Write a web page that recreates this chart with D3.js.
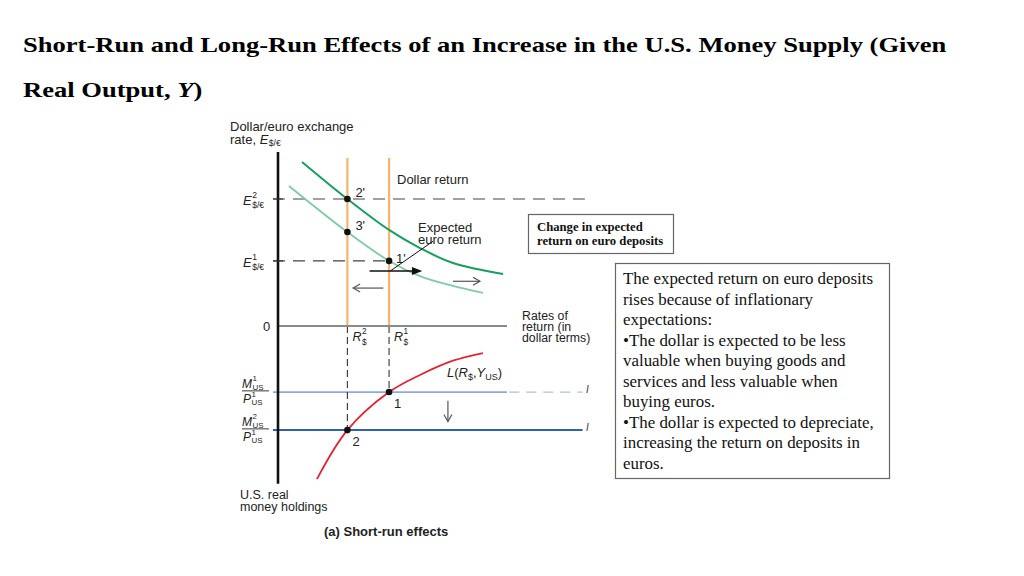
<!DOCTYPE html>
<html><head><meta charset="utf-8">
<script src="https://cdn.jsdelivr.net/npm/d3@7"></script>
<style>
html,body{margin:0;padding:0;background:#fff;}
svg{display:block;}
</style></head>
<body>
<svg id="chart" width="1024" height="576"></svg>
<script>
// ---------- DATA ----------
const titleLines = ["Short-Run and Long-Run Effects of an Increase in the U.S. Money Supply (Given", "Real Output, "];
const rateLevels = [3.03, 4.85];            // R$2, R$1
const exchangeLevels = [7.30, 3.74];        // E2, E1
const point3Level = 5.40;                   // 3'
const moneyLevels = [3.98, 6.27];           // M1/P1, M2/P1
const expectedEuroReturnNew = [[1.05,9.43],[3.03,7.30],[4.85,5.52],[6.20,4.48],[7.64,3.62],[9.83,2.99]];
const expectedEuroReturnOld = [[0.48,8.05],[3.03,5.40],[4.85,3.74],[6.20,2.87],[7.64,2.30],[8.95,1.90]];
const liquidityCurve = [[1.70,9.22],[3.03,6.27],[4.85,3.98],[6.20,2.95],[7.64,2.09],[8.95,1.63]];
const pointLabelsTop = ["2'", "3'", "1'"];
const pointLabelsBottom = ["1", "2"];
const axisXLabel = ["Rates of", "return (in", "dollar terms)"];
const axisYLabelBottom = ["U.S. real", "money holdings"];
const noteShort = ["Change in expected", "return on euro deposits"];
const noteLong = ["The expected return on euro deposits","rises because of inflationary","expectations:",
  "\u2022The dollar is expected to be less","valuable when buying goods and","services and less valuable when",
  "buying euros.","\u2022The dollar is expected to depreciate,","increasing the return on deposits in","euros."];

// ---------- SETUP ----------
const svg = d3.select("#chart");
const SANS = "'Liberation Sans', Arial, sans-serif";
const SERIF = "'Liberation Serif', 'Times New Roman', serif";

// Title
const tg = svg.append("g");
const t1 = tg.append("text").attr("x",0).attr("y",52).attr("font-family",SERIF).attr("font-weight","bold")
  .attr("font-size",21.5).attr("fill","#000").text(titleLines[0]);
const t2 = tg.append("text").attr("x",0).attr("y",97).attr("font-family",SERIF).attr("font-weight","bold")
  .attr("font-size",21.5).attr("fill","#000");
t2.append("tspan").text(titleLines[1].replace(/ $/,"\u00a0"));
t2.append("tspan").attr("font-style","italic").text("Y");
t2.append("tspan").text(")");
const natural = t1.node().getComputedTextLength();
const sx = 924 / natural;
tg.attr("transform", `translate(23,0) scale(${sx},1)`);

// Scales
const x = d3.scaleLinear().domain([0,10]).range([278,507]);
const yTop = d3.scaleLinear().domain([0,10]).range([326,152]);
const yBot = d3.scaleLinear().domain([0,10]).range([326,492]);

svg.append("defs").append("clipPath").attr("id","fig").append("rect")
  .attr("x",200).attr("y",110).attr("width",392).attr("height",440);
const g = svg.append("g").attr("clip-path","url(#fig)");

function sym(parent, px, py, base, sup, sub, size, supDy=-0.55, subDy=0.22){
  const b = parent.append("text").attr("x",px).attr("y",py).attr("font-family",SANS)
    .attr("font-size",size).attr("font-style","italic").attr("fill","#222").text(base);
  const w = b.node().getComputedTextLength();
  if(sup) parent.append("text").attr("x",px+w+0.5).attr("y",py+size*supDy).attr("font-family",SANS)
    .attr("font-size",size*0.66).attr("fill","#222").text(sup);
  if(sub) parent.append("text").attr("x",px+w+0.5).attr("y",py+size*subDy).attr("font-family",SANS)
    .attr("font-size",size*0.66).attr("fill","#222").text(sub);
  return w;
}

// Orange dollar return lines
rateLevels.forEach(r=>{
  g.append("line").attr("x1",x(r)).attr("x2",x(r)).attr("y1",yTop(9.66)).attr("y2",yTop(0))
    .attr("stroke","#f6b46e").attr("stroke-width",2.2);
});

// dashed exchange rate lines
g.append("line").attr("x1",x(-0.22)).attr("x2",x(13.4)).attr("y1",yTop(exchangeLevels[0])).attr("y2",yTop(exchangeLevels[0]))
  .attr("stroke","#444").attr("stroke-width",1.1).attr("stroke-dasharray","12,8");
g.append("line").attr("x1",x(-0.22)).attr("x2",x(rateLevels[1])).attr("y1",yTop(exchangeLevels[1])).attr("y2",yTop(exchangeLevels[1]))
  .attr("stroke","#444").attr("stroke-width",1.1).attr("stroke-dasharray","12,8");

// curves
const lineTop = d3.line().x(d=>x(d[0])).y(d=>yTop(d[1])).curve(d3.curveCatmullRom.alpha(0.5));
const lineBot = d3.line().x(d=>x(d[0])).y(d=>yBot(d[1])).curve(d3.curveCatmullRom.alpha(0.5));
g.append("path").attr("d",lineTop(expectedEuroReturnOld)).attr("fill","none").attr("stroke","#7fcca3").attr("stroke-width",1.8);
g.append("path").attr("d",lineTop(expectedEuroReturnNew)).attr("fill","none").attr("stroke","#17a05c").attr("stroke-width",2);

// money lines
g.append("line").attr("x1",x(-0.22)).attr("x2",x(10)).attr("y1",yBot(moneyLevels[0])).attr("y2",yBot(moneyLevels[0]))
  .attr("stroke","#8fa9dc").attr("stroke-width",1.8);
g.append("line").attr("x1",x(10.1)).attr("x2",x(13.3)).attr("y1",yBot(moneyLevels[0])).attr("y2",yBot(moneyLevels[0]))
  .attr("stroke","#b3bfd6").attr("stroke-width",1.3).attr("stroke-dasharray","10,7");
g.append("line").attr("x1",x(-0.22)).attr("x2",x(13.3)).attr("y1",yBot(moneyLevels[1])).attr("y2",yBot(moneyLevels[1]))
  .attr("stroke","#2e62ad").attr("stroke-width",2);
moneyLevels.forEach(m=>{
  g.append("text").attr("x",x(13.45)).attr("y",yBot(m)+1).attr("font-family",SANS).attr("font-size",10)
    .attr("font-style","italic").attr("fill","#333").text("I");
});

// vertical dashed lines below axis
rateLevels.forEach((r,i)=>{
  const m = i===0 ? moneyLevels[1] : moneyLevels[0];
  g.append("line").attr("x1",x(r)).attr("x2",x(r)).attr("y1",yBot(0)).attr("y2",yBot(m))
    .attr("stroke","#333").attr("stroke-width",1.1).attr("stroke-dasharray","7,4");
});

// liquidity curve
g.append("path").attr("d",lineBot(liquidityCurve)).attr("fill","none").attr("stroke","#e3232f").attr("stroke-width",1.8);

// axes
g.append("line").attr("x1",x(0)).attr("x2",x(10)).attr("y1",yTop(0)).attr("y2",yTop(0)).attr("stroke","#8a8a8a").attr("stroke-width",2);
g.append("line").attr("x1",x(0)).attr("x2",x(0)).attr("y1",yTop(10)).attr("y2",yBot(9.5)).attr("stroke","#111").attr("stroke-width",2.6);
exchangeLevels.forEach(e=>{
  g.append("line").attr("x1",x(-0.22)).attr("x2",x(0.22)).attr("y1",yTop(e)).attr("y2",yTop(e)).attr("stroke","#333").attr("stroke-width",1.1);
});

// points
const topPts = [[rateLevels[0],exchangeLevels[0]],[rateLevels[0],point3Level],[rateLevels[1],exchangeLevels[1]]];
topPts.forEach((p,i)=>{
  g.append("circle").attr("cx",x(p[0])).attr("cy",yTop(p[1])).attr("r",3.3).attr("fill","#111");
  g.append("text").attr("x",x(p[0])+(i===2?7:8)).attr("y",yTop(p[1])+(i===2?2:-2))
    .attr("font-family",SANS).attr("font-size",13).attr("fill","#222").text(pointLabelsTop[i]);
});
const botPts = [[rateLevels[1],moneyLevels[0]],[rateLevels[0],moneyLevels[1]]];
botPts.forEach((p,i)=>{
  g.append("circle").attr("cx",x(p[0])).attr("cy",yBot(p[1])).attr("r",3.3).attr("fill","#111");
  g.append("text").attr("x",x(p[0])+5).attr("y",yBot(p[1])+16)
    .attr("font-family",SANS).attr("font-size",13).attr("fill","#222").text(pointLabelsBottom[i]);
});

// arrows
function openHead(x2,y2,dx,dy,color){
  const L=7, W=4;
  const px=-dy, py=dx;
  g.append("path").attr("d",`M${x2-dx*L+px*W},${y2-dy*L+py*W}L${x2},${y2}L${x2-dx*L-px*W},${y2-dy*L-py*W}`)
    .attr("fill","none").attr("stroke",color).attr("stroke-width",1.2);
}
g.append("line").attr("x1",x(7.64)).attr("x2",x(8.82)).attr("y1",yTop(2.57)).attr("y2",yTop(2.57)).attr("stroke","#555").attr("stroke-width",1.2);
openHead(x(8.82),yTop(2.57),1,0,"#555");
g.append("line").attr("x1",x(4.6)).attr("x2",x(3.28)).attr("y1",yTop(2.18)).attr("y2",yTop(2.18)).attr("stroke","#555").attr("stroke-width",1.2);
openHead(x(3.28),yTop(2.18),-1,0,"#555");
g.append("line").attr("x1",x(7.42)).attr("x2",x(7.42)).attr("y1",yBot(4.5)).attr("y2",yBot(5.75)).attr("stroke","#555").attr("stroke-width",1.2);
openHead(x(7.42),yBot(5.75),0,1,"#555");
g.append("line").attr("x1",x(4.0)).attr("x2",x(6.0)).attr("y1",yTop(3.16)).attr("y2",yTop(3.16)).attr("stroke","#111").attr("stroke-width",1.5);
g.append("path").attr("d",`M${x(6.3)},${yTop(3.16)}L${x(5.85)},${yTop(3.16)-4}L${x(5.85)},${yTop(3.16)+4}Z`).attr("fill","#111");
g.append("line").attr("x1",x(4.9)).attr("x2",x(6.78)).attr("y1",yTop(3.16)).attr("y2",yTop(4.88)).attr("stroke","#111").attr("stroke-width",1);

// labels
const lab = (t,px,py,size=13,extra={})=>{
  const e = g.append("text").attr("x",px).attr("y",py).attr("font-family",SANS).attr("font-size",size).attr("fill","#222").text(t);
  Object.entries(extra).forEach(([k,v])=>e.attr(k,v));
  return e;
};
lab("Dollar/euro exchange",230,131);
const rl = lab("rate,\u00a0",230,143.5);
const rw = rl.node().getComputedTextLength();
sym(g,230+rw,143.5,"E",null,"$/\u20ac",13);
lab("Dollar return",397,184);
lab("Expected",418,232);
lab("euro return",418,244);
lab("0",263,331);
axisXLabel.forEach((s,i)=>lab(s,522,320+i*10.8,12.3));
axisYLabelBottom.forEach((s,i)=>lab(s,240,499+i*11.5,12.5));
lab("(a) Short-run effects",324,536,13,{"font-weight":"bold"});

// E labels
exchangeLevels.forEach((e,i)=>{
  sym(g,243,yTop(e)+6.5,"E",String(2-i),"$/\u20ac",13,-0.58,0.2);
});
// R labels
rateLevels.forEach((r,i)=>{
  sym(g,x(r)+5,yTop(0)+15,"R",String(2-i),"$",12.5,-0.55,0.3);
});
// fraction labels
moneyLevels.forEach((m,i)=>{
  const yy = yBot(m);
  sym(g,242,yy-4,"M",String(i+1),"US",12,-0.62,0.17);
  g.append("line").attr("x1",242).attr("x2",269).attr("y1",yy-1.2).attr("y2",yy-1.2).attr("stroke","#222").attr("stroke-width",0.9);
  sym(g,243,yy+11,"P","1","US",12,-0.5,0.2);
});
// L(R$, YUS)
{
  const t = g.append("text").attr("x",447).attr("y",377).attr("font-family",SANS).attr("font-size",13).attr("fill","#222");
  t.append("tspan").attr("font-style","italic").text("L");
  t.append("tspan").text("(");
  t.append("tspan").attr("font-style","italic").text("R");
  t.append("tspan").attr("font-size",9).attr("dy",3).text("$");
  t.append("tspan").attr("dy",-3).text(",");
  t.append("tspan").attr("font-style","italic").text("Y");
  t.append("tspan").attr("font-size",9).attr("dy",3).text("US");
  t.append("tspan").attr("dy",-3).text(")");
}

// note boxes
svg.append("rect").attr("x",528.5).attr("y",214.5).attr("width",145).attr("height",39).attr("fill","#fff").attr("stroke","#666").attr("stroke-width",1.2);
noteShort.forEach((s,i)=>{
  svg.append("text").attr("x",537).attr("y",231+i*14).attr("font-family",SERIF).attr("font-weight","bold")
    .attr("font-size",12.7).attr("fill","#111").text(s);
});
svg.append("rect").attr("x",615.5).attr("y",263.5).attr("width",274).attr("height",215).attr("fill","#fff").attr("stroke","#666").attr("stroke-width",1.2);
noteLong.forEach((s,i)=>{
  svg.append("text").attr("x",623).attr("y",284+i*20.5).attr("font-family",SERIF)
    .attr("font-size",16.9).attr("fill","#111").text(s);
});
</script>
</body></html>
